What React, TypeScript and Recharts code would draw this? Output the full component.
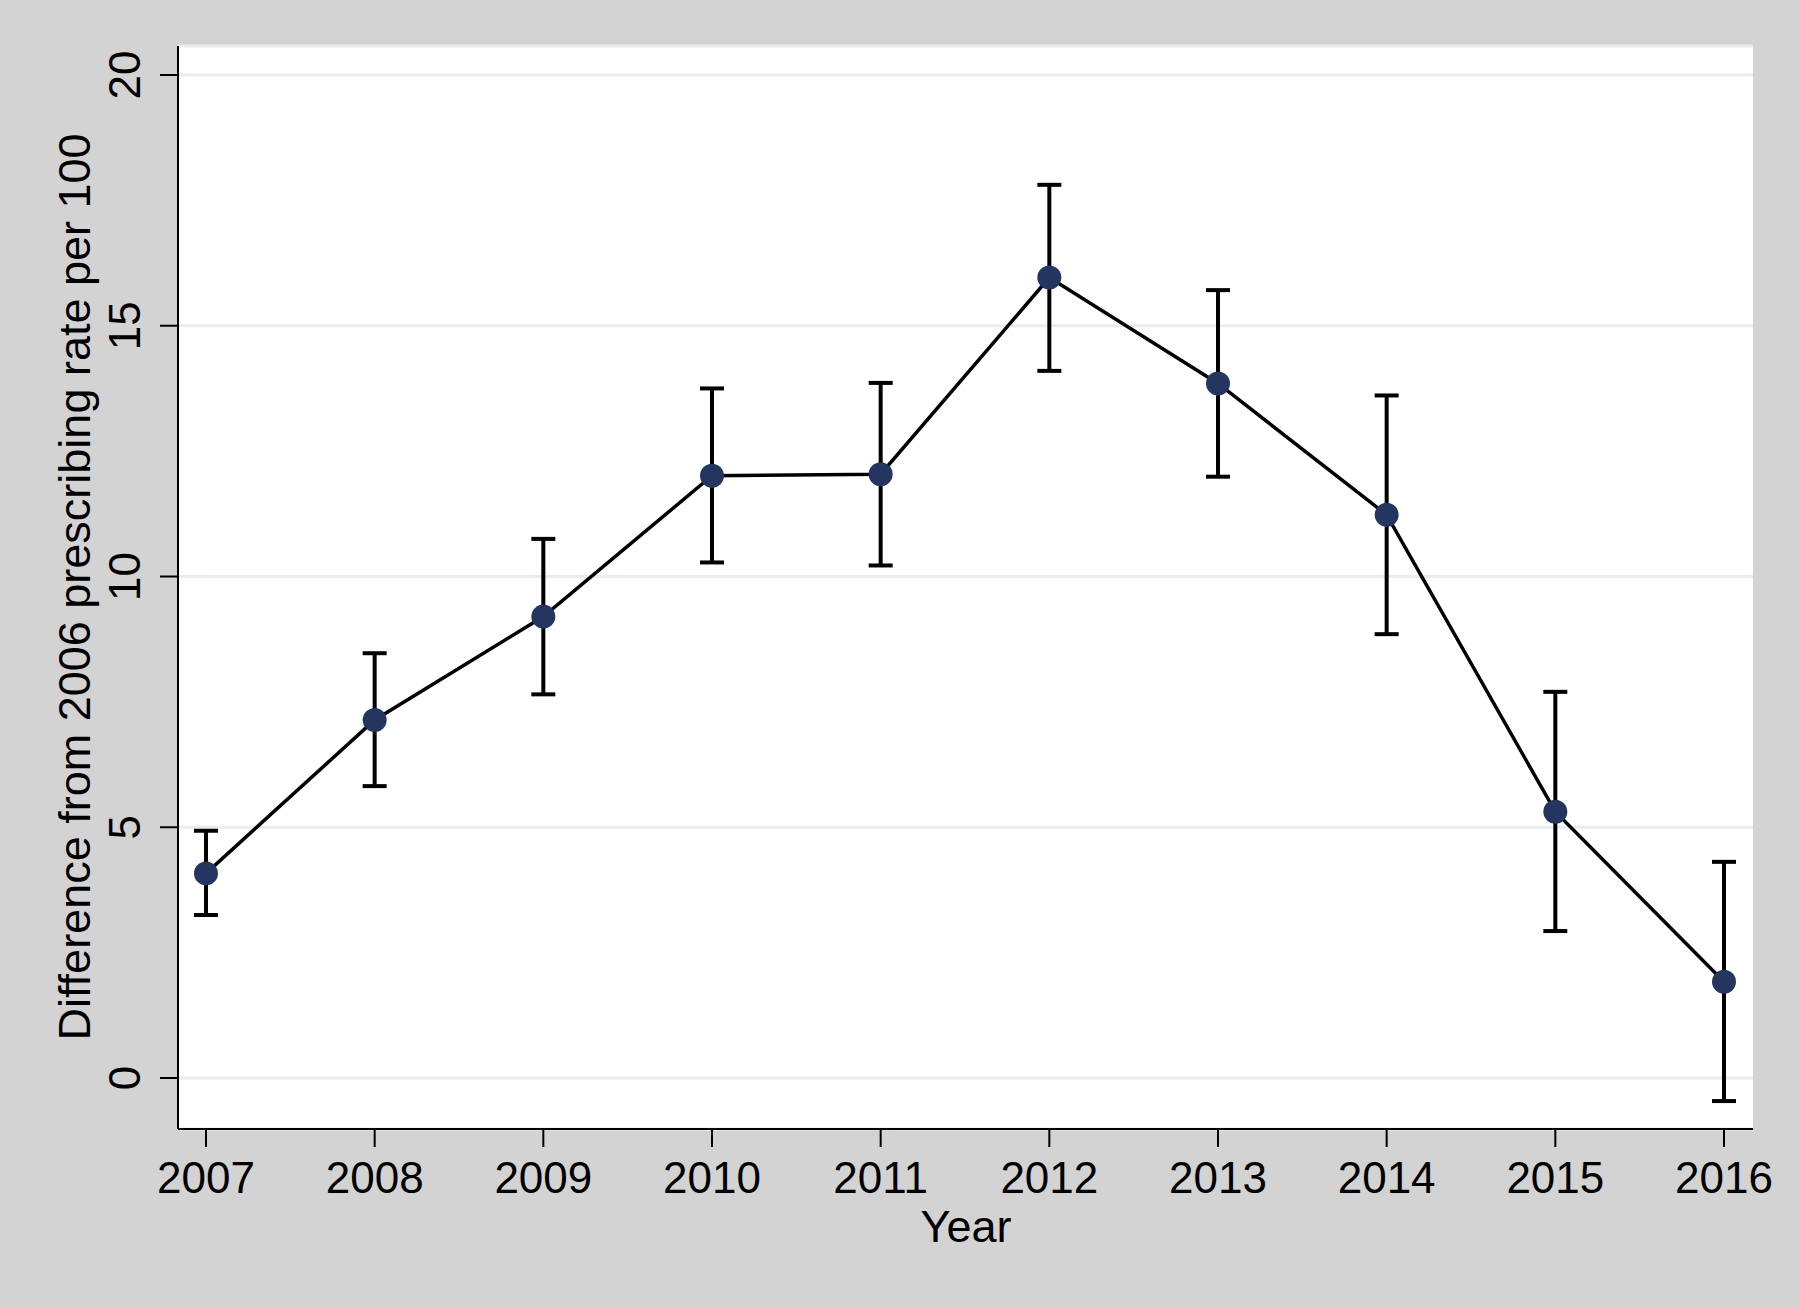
import React from 'react';
import { ComposedChart, Line, XAxis, YAxis, CartesianGrid, ErrorBar, Label } from 'recharts';

const years = [2007, 2008, 2009, 2010, 2011, 2012, 2013, 2014, 2015, 2016];
const estimates = [4.08, 7.14, 9.2, 12.01, 12.04, 15.96, 13.85, 11.23, 5.31, 1.92];
const lowerCI = [3.25, 5.82, 7.65, 10.28, 10.22, 14.1, 11.99, 8.85, 2.93, -0.46];
const upperCI = [4.93, 8.47, 10.75, 13.75, 13.86, 17.81, 15.71, 13.61, 7.7, 4.31];
const yTicks = [0, 5, 10, 15, 20];

const data = years.map((year, i) => ({
  year,
  value: estimates[i],
  err: [estimates[i] - lowerCI[i], upperCI[i] - estimates[i]],
}));

const FONT = '"Liberation Sans", Arial, Helvetica, sans-serif';

const XTick = (props: any) => (
  <text x={props.x} y={props.y + 46} textAnchor="middle" fontSize={44} fontFamily={FONT} fill="#000">
    {props.payload.value}
  </text>
);

const YTick = (props: any) => (
  <text
    transform={`translate(${props.x - 20}, ${props.y}) rotate(-90)`}
    textAnchor="middle"
    fontSize={44}
    fontFamily={FONT}
    fill="#000"
  >
    {props.payload.value}
  </text>
);

export default function App() {
  return (
    <div style={{ position: 'absolute', left: 0, top: 0, width: 1800, height: 1308, background: '#d3d3d3' }}>
      <ComposedChart
        width={1800}
        height={1308}
        data={data}
        margin={{ top: 46, right: 47, bottom: 0, left: 0 }}
      >
        <CartesianGrid fill="#ffffff" vertical={false} stroke="#e7edf1" strokeWidth={3} />
        <XAxis
          dataKey="year"
          type="number"
          domain={[2006.834, 2016.172]}
          ticks={years}
          interval={0}
          allowDataOverflow
          height={179}
          stroke="#000"
          strokeWidth={2}
          tickSize={18}
          tickMargin={0}
          tick={<XTick />}
        >
          <Label
            content={() => (
              <text x={966} y={1242} textAnchor="middle" fontSize={45} fontFamily={FONT} fill="#000">
                Year
              </text>
            )}
          />
        </XAxis>
        <YAxis
          type="number"
          domain={[-1.017, 20.578]}
          ticks={yTicks}
          interval={0}
          allowDataOverflow
          width={178}
          stroke="#000"
          strokeWidth={2}
          tickSize={18}
          tickMargin={0}
          tick={<YTick />}
        >
          <Label
            content={() => (
              <text
                transform="translate(90, 587) rotate(-90)"
                textAnchor="middle"
                fontSize={45}
                fontFamily={FONT}
                fill="#000"
              >
                Difference from 2006 prescribing rate per 100
              </text>
            )}
          />
        </YAxis>
        <Line
          dataKey="value"
          stroke="#000"
          strokeWidth={3.5}
          isAnimationActive={false}
          dot={{ r: 12, fill: '#24355f', stroke: '#24355f', strokeWidth: 0 }}
          activeDot={false}
        >
          <ErrorBar dataKey="err" width={12} stroke="#000" strokeWidth={4} direction="y" />
        </Line>
      </ComposedChart>
    </div>
  );
}
